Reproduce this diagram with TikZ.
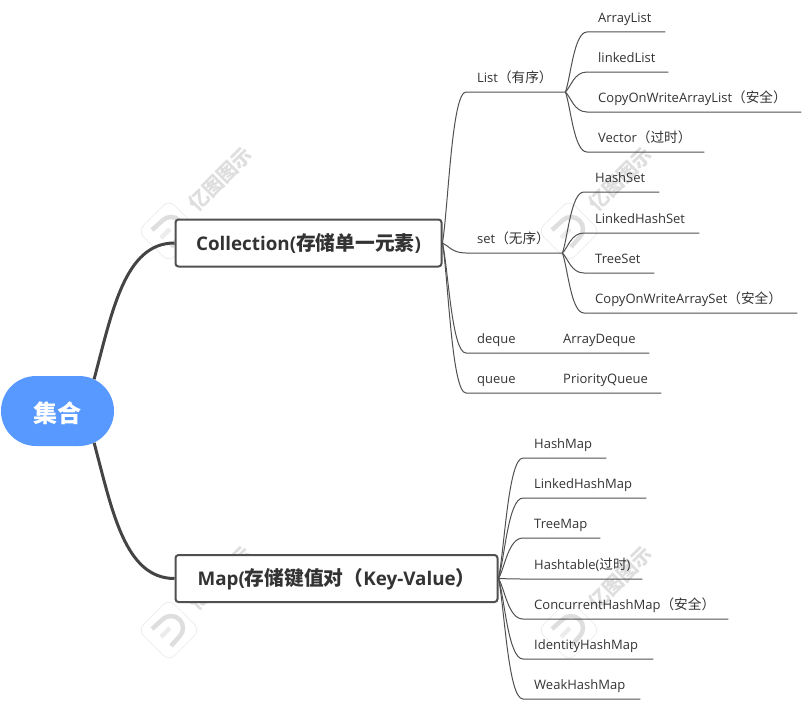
\documentclass[tikz,border=0pt]{standalone}
\usepackage{fontspec}
\setmainfont{Open Sans}
\newfontfamily\cjk[Scale=1.05]{Noto Sans CJK SC}
\newcommand{\zh}[1]{{\cjk #1}}
\definecolor{rootblue}{RGB}{88, 153, 255}
\definecolor{inkgray}{RGB}{51, 51, 51}
\definecolor{linegray}{RGB}{80, 80, 80}
\definecolor{trunkgray}{RGB}{68, 68, 68}
\definecolor{markgray}{RGB}{222, 222, 222}
\definecolor{markpale}{RGB}{236, 236, 236}
\usetikzlibrary{shapes.misc, calc, positioning}
\tikzset{
    logomark/.pic={
        \draw[markpale, line width=0.8pt, rounded corners=8pt, rotate=45] (-22,-22) rectangle (22,22);
        \draw[markgray, line width=4.5pt] (-17,-1) -- (-6.5,-10.5) arc[start angle=135, end angle=-45, radius=12pt] -- (2,16);
        \draw[markpale, line width=4.5pt] (-8,7) -- (1,-2);
        \node[markgray, font=\cjk\bfseries\fontsize{19}{19}\selectfont, rotate=45] (word) at (51,-52) {亿图图示};
    }
}

\begin{document}
\begin{tikzpicture}[
    x=1pt, y=-1pt,
    rootnode/.style={rounded rectangle, fill=rootblue, text=white, minimum width=113pt,
                     minimum height=70pt, inner sep=0pt, text height=25pt, text depth=2pt,
                     font=\cjk\bfseries\fontsize{23}{25}\selectfont},
    topicbox/.style={draw=linegray, line width=2pt, rounded corners=3pt, fill=white,
                     minimum height=47pt, inner sep=0pt, text=inkgray, text height=17pt, text depth=3pt,
                     font=\bfseries\fontsize{18.8}{24}\selectfont},
    leaf/.style={anchor=south west, inner xsep=11pt, inner ysep=0pt, minimum height=26pt,
                 text height=10pt, text depth=3pt, text width=#1pt-22pt, align=left, text=inkgray,
                 font=\fontsize{13}{15}\selectfont},
    trunk/.style={draw=trunkgray, line width=3pt},
    twig/.style={draw=linegray, line width=1pt, to path={
        .. controls ($(\tikztostart)!0.25!(\tikztotarget)$) and
        ($(\tikztotarget)!0.6!(\tikztostart|-\tikztotarget)$) .. (\tikztotarget)}}
]
    \useasboundingbox (0,0) rectangle (802,701);

    % Watermarks
    \pic (markone) at (169,231) {logomark};
    \pic (marktwo) at (569,231) {logomark};
    \pic (markthree) at (169,630) {logomark};
    \pic (markfour) at (569,630) {logomark};

    \node[rootnode] (root) at (57.5,411) {集合};
    \node[topicbox, minimum width=266pt] (collection) at (308.5,243) {Collection(\zh{存储单一元素})};
    \node[topicbox, minimum width=322pt] (map) at (336.5,578.5) {Map(\zh{存储键值对（}Key-Value\zh{）}};

    % Collection side
    \node[leaf=99] (list) at (466,92) {List\zh{（有序）}};
    \node[leaf=78] (arraylist) at (587,32) {ArrayList};
    \node[leaf=81] (linkedlist) at (587,72) {linkedList};
    \node[leaf=214] (cowlist) at (587,112) {CopyOnWriteArrayList\zh{（安全）}};
    \node[leaf=117] (vector) at (587,152) {Vector\zh{（过时）}};

    \node[leaf=96] (set) at (466,253) {set\zh{（无序）}};
    \node[leaf=75] (hashset) at (584,192) {HashSet};
    \node[leaf=115] (linkedhashset) at (584,233) {LinkedHashSet};
    \node[leaf=70] (treeset) at (584,273) {TreeSet};
    \node[leaf=213] (cowset) at (584,313) {CopyOnWriteArraySet\zh{（安全）}};

    \node[leaf=86] (deque) at (466,353) {deque};
    \node[leaf=97] (arraydeque) at (552,353) {ArrayDeque};
    \node[leaf=86] (queue) at (466,393) {queue};
    \node[leaf=109] (priorityqueue) at (552,393) {PriorityQueue};

    % Map side
    \node[leaf=83] (hashmap) at (523,458) {HashMap};
    \node[leaf=123] (linkedhashmap) at (523,498) {LinkedHashMap};
    \node[leaf=77] (treemap) at (523,538) {TreeMap};
    \node[leaf=119] (hashtable) at (523,579) {Hashtable(\zh{过时})};
    \node[leaf=205] (concurrent) at (523,619) {ConcurrentHashMap\zh{（安全）}};
    \node[leaf=130] (identity) at (523,659) {IdentityHashMap};
    \node[leaf=117] (weakhashmap) at (523,699) {WeakHashMap};

    % Thick branches
    \draw[trunk] (root.41) .. controls +(18,-67) and +(-50,0) .. (collection.west);
    \draw[trunk] (root.-41) .. controls +(18,67) and +(-50,0) .. (map.west);

    % Branches of Collection
    \draw[twig] (collection.east) to (list.south west) -- (list.south east);
    \draw[twig] (collection.east) to (set.south west) -- (set.south east);
    \draw[twig] (collection.east) to (deque.south west) -- (deque.south east) -- (arraydeque.south east);
    \draw[twig] (collection.east) to (queue.south west) -- (queue.south east) -- (priorityqueue.south east);

    \draw[twig] (list.south east) to (arraylist.south west) -- (arraylist.south east);
    \draw[twig] (list.south east) to (linkedlist.south west) -- (linkedlist.south east);
    \draw[twig] (list.south east) to (cowlist.south west) -- (cowlist.south east);
    \draw[twig] (list.south east) to (vector.south west) -- (vector.south east);

    \draw[twig] (set.south east) to (hashset.south west) -- (hashset.south east);
    \draw[twig] (set.south east) to (linkedhashset.south west) -- (linkedhashset.south east);
    \draw[twig] (set.south east) to (treeset.south west) -- (treeset.south east);
    \draw[twig] (set.south east) to (cowset.south west) -- (cowset.south east);

    % Branches of Map
    \draw[twig] (map.east) to (hashmap.south west) -- (hashmap.south east);
    \draw[twig] (map.east) to (linkedhashmap.south west) -- (linkedhashmap.south east);
    \draw[twig] (map.east) to (treemap.south west) -- (treemap.south east);
    \draw[twig] (map.east) to (hashtable.south west) -- (hashtable.south east);
    \draw[twig] (map.east) to (concurrent.south west) -- (concurrent.south east);
    \draw[twig] (map.east) to (identity.south west) -- (identity.south east);
    \draw[twig] (map.east) to (weakhashmap.south west) -- (weakhashmap.south east);
\end{tikzpicture}
\end{document}
